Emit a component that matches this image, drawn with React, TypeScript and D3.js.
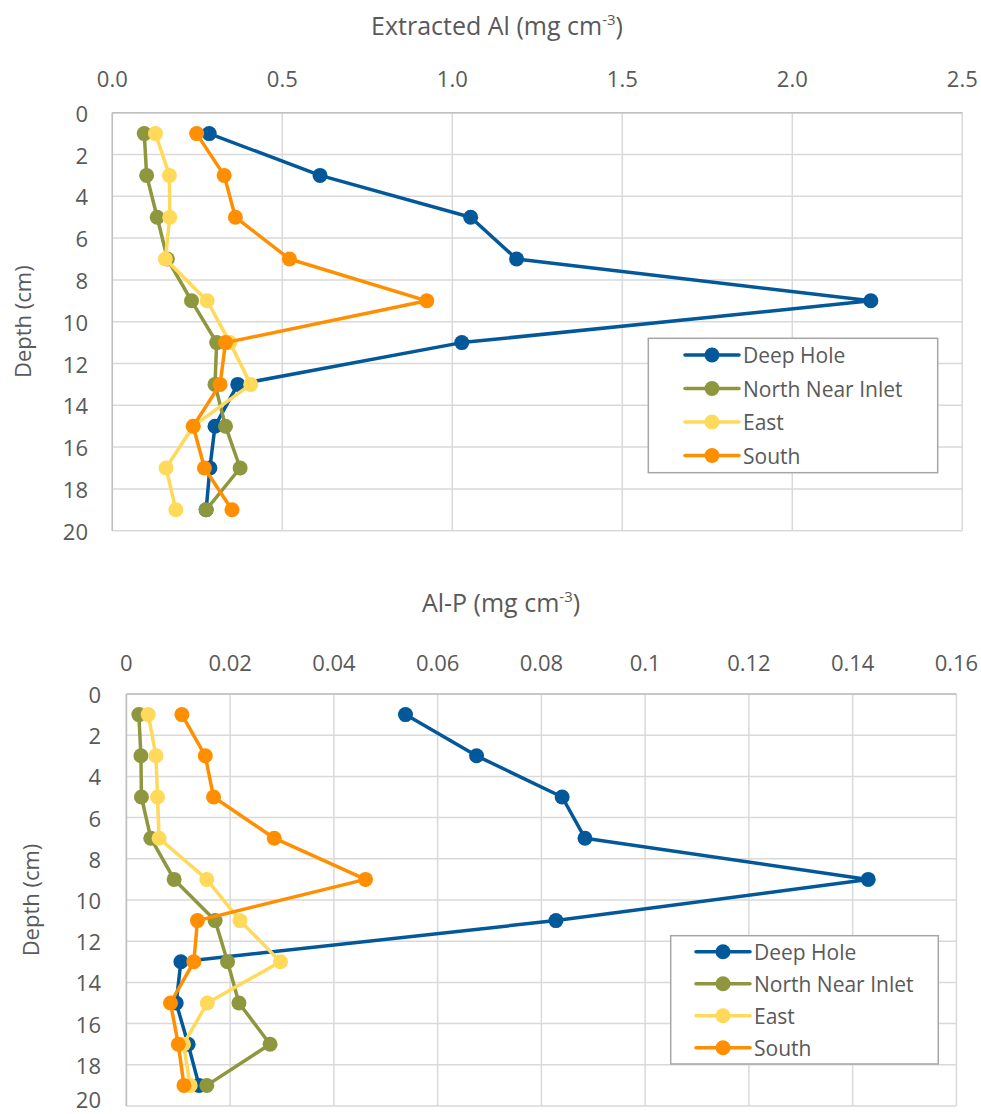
import React from "react";
import * as d3 from "d3";

const depths = [1, 3, 5, 7, 9, 11, 13, 15, 17, 19];
const seriesNames = ["Deep Hole", "North Near Inlet", "East", "South"];
const seriesColors = ["#03589a", "#8e963e", "#ffd95a", "#ff8f00"];

// Extracted Al (mg cm-3)
const alDeepHole = [0.285, 0.611, 1.054, 1.189, 2.231, 1.028, 0.369, 0.302, 0.287, 0.276];
const alNorth = [0.094, 0.101, 0.132, 0.162, 0.233, 0.307, 0.302, 0.333, 0.376, 0.276];
const alEast = [0.127, 0.168, 0.169, 0.156, 0.279, 0.346, 0.407, 0.238, 0.158, 0.187];
const alSouth = [0.248, 0.329, 0.362, 0.521, 0.925, 0.333, 0.317, 0.238, 0.271, 0.352];

// Al-P (mg cm-3)
const alpDeepHole = [0.0538, 0.0675, 0.084, 0.0884, 0.143, 0.0828, 0.0105, 0.0096, 0.0119, 0.014];
const alpNorth = [0.0024, 0.0028, 0.0029, 0.0047, 0.0092, 0.0171, 0.0195, 0.0217, 0.0277, 0.0155];
const alpEast = [0.0042, 0.0057, 0.006, 0.0063, 0.0155, 0.0219, 0.0297, 0.0156, 0.011, 0.0123];
const alpSouth = [0.0107, 0.0152, 0.0168, 0.0285, 0.0461, 0.0137, 0.013, 0.0085, 0.01, 0.0111];

const alTicks = [0, 0.5, 1, 1.5, 2, 2.5];
const alpTicks = [0, 0.02, 0.04, 0.06, 0.08, 0.1, 0.12, 0.14, 0.16];
const depthTicks = [0, 2, 4, 6, 8, 10, 12, 14, 16, 18, 20];

const FONT = "'Open Sans', 'DejaVu Sans', sans-serif";
const TEXT = "#595959";

type PanelProps = {
  series: number[][];
  xDomain: [number, number];
  xTicks: number[];
  fmt: (v: number) => string;
  title: string;
  titleX: number;
  titleY: number;
  left: number;
  right: number;
  top: number;
  bottom: number;
  tickY: number;
  yTickX: number;
  yLabelX: number;
  maxLabelY: number;
  legend: { x: number; y: number; w: number; h: number; rowH: number; lineX: number; first: number };
};

const Panel = (p: PanelProps) => {
  const x = d3.scaleLinear().domain(p.xDomain).range([p.left, p.right]);
  const y = d3.scaleLinear().domain([0, 20]).range([p.top, p.bottom]);
  const line = d3
    .line<number>()
    .x((d) => x(d))
    .y((_, i) => y(depths[i]));
  return (
    <g>
      <text x={p.titleX} y={p.titleY} textAnchor="middle" fontSize={25} fill={TEXT} fontFamily={FONT}>
        {p.title}
        <tspan fontSize={15} dy={-10}>-3</tspan>
        <tspan dy={10}>)</tspan>
      </text>
      {/* grid */}
      {p.xTicks.map((t) => (
        <line key={"gx" + t} x1={x(t)} x2={x(t)} y1={p.top} y2={p.bottom} stroke="#d9d9d9" strokeWidth={1.5} />
      ))}
      {depthTicks.map((t) => (
        <line key={"gy" + t} x1={p.left} x2={p.right} y1={y(t)} y2={y(t)} stroke="#d9d9d9" strokeWidth={1.5} />
      ))}
      <line x1={p.left} x2={p.left} y1={p.top} y2={p.bottom} stroke="#bfbfbf" strokeWidth={1.5} />
      <line x1={p.left} x2={p.right} y1={p.top} y2={p.top} stroke="#bfbfbf" strokeWidth={1.5} />
      {p.xTicks.map((t) => (
        <text key={"tx" + t} x={x(t)} y={p.tickY} textAnchor="middle" dominantBaseline="central" fontSize={22} fill={TEXT} fontFamily={FONT}>
          {p.fmt(t)}
        </text>
      ))}
      {depthTicks.map((t) => (
        <text key={"ty" + t} x={p.yTickX} y={Math.min(y(t), p.maxLabelY)} textAnchor="end" dominantBaseline="central" fontSize={22} fill={TEXT} fontFamily={FONT}>
          {t}
        </text>
      ))}
      <text
        transform={`translate(${p.yLabelX},${(p.top + p.bottom) / 2}) rotate(-90)`}
        textAnchor="middle"
        dominantBaseline="central"
        fontSize={22}
        fill={TEXT}
        fontFamily={FONT}
      >
        Depth (cm)
      </text>
      {/* series */}
      {p.series.map((s, si) => (
        <g key={"s" + si}>
          <path d={line(s) || ""} fill="none" stroke={seriesColors[si]} strokeWidth={3.5} strokeLinejoin="round" />
          {s.map((v, i) => (
            <circle key={i} cx={x(v)} cy={y(depths[i])} r={7.5} fill={seriesColors[si]} />
          ))}
        </g>
      ))}
      {/* legend */}
      <rect x={p.legend.x} y={p.legend.y} width={p.legend.w} height={p.legend.h} fill="white" stroke="#a6a6a6" strokeWidth={1.5} />
      {seriesNames.map((n, i) => {
        const ry = p.legend.y + p.legend.first + i * p.legend.rowH;
        const lx = p.legend.x + p.legend.lineX;
        return (
          <g key={n}>
            <line x1={lx} x2={lx + 54} y1={ry} y2={ry} stroke={seriesColors[i]} strokeWidth={3.5} strokeLinecap="round" />
            <circle cx={lx + 27} cy={ry} r={7.5} fill={seriesColors[i]} />
            <text x={lx + 58} y={ry} dominantBaseline="central" fontSize={21} fill={TEXT} fontFamily={FONT}>
              {n}
            </text>
          </g>
        );
      })}
    </g>
  );
};

export default function App() {
  return (
    <svg width={981} height={1114} style={{ position: "absolute", left: 0, top: 0, background: "white" }}>
      <Panel
        series={[alDeepHole, alNorth, alEast, alSouth]}
        xDomain={[0, 2.5]}
        xTicks={alTicks}
        fmt={d3.format(".1f")}
        title="Extracted Al (mg cm"
        titleX={497}
        titleY={35}
        left={112.3}
        right={962.3}
        top={112.7}
        bottom={530.7}
        tickY={78}
        yTickX={88}
        yLabelX={22}
        maxLabelY={999}
        legend={{ x: 648.3, y: 338.3, w: 289.4, h: 134.4, rowH: 33.5, lineX: 36.7, first: 16.7 }}
      />
      <Panel
        series={[alpDeepHole, alpNorth, alpEast, alpSouth]}
        xDomain={[0, 0.16]}
        xTicks={alpTicks}
        fmt={(v) => String(+v.toFixed(2))}
        title="Al-P (mg cm"
        titleX={501}
        titleY={612}
        left={126.4}
        right={956.4}
        top={694}
        bottom={1106}
        tickY={662}
        yTickX={101}
        yLabelX={30}
        maxLabelY={1099}
        legend={{ x: 670.7, y: 935.7, w: 267.6, h: 128.3, rowH: 32, lineX: 25.3, first: 16 }}
      />
    </svg>
  );
}
